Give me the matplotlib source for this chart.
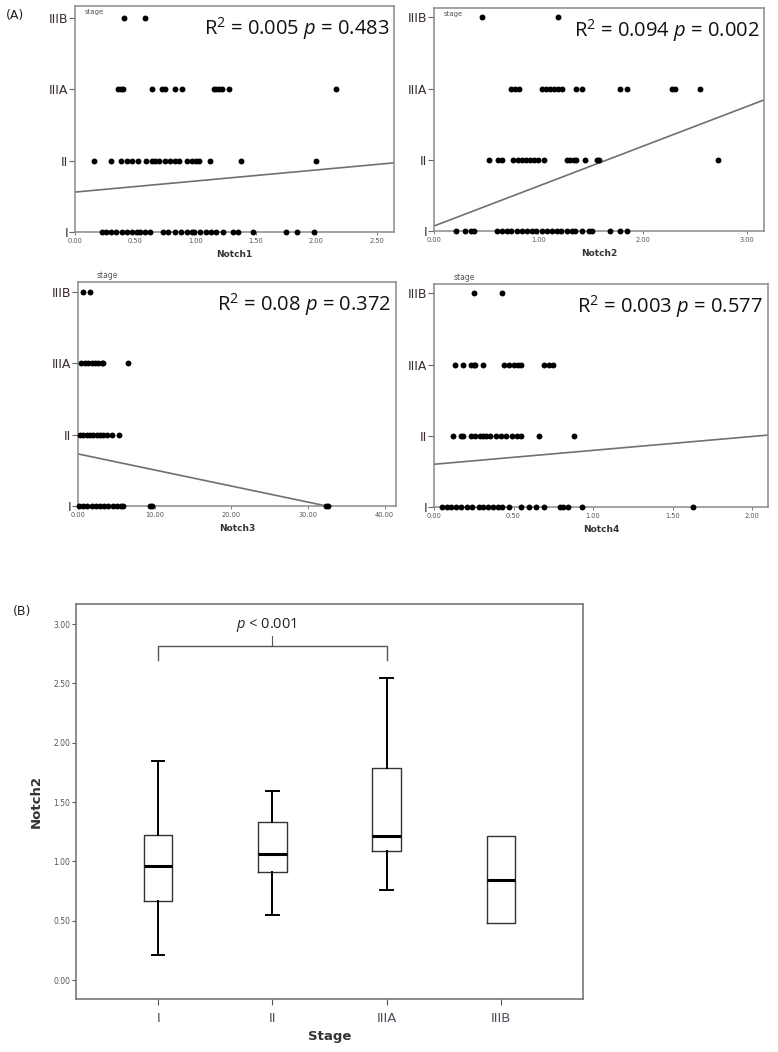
import numpy as np
import matplotlib
matplotlib.use('Agg')
import matplotlib.pyplot as plt

plt.rcParams['mathtext.fontset'] = 'custom'
plt.rcParams['mathtext.rm'] = 'Open Sans'
plt.rcParams['mathtext.it'] = 'Open Sans:italic'

W, H = 778, 1052

stages = ['I', 'II', 'IIIA', 'IIIB']

# Notch1 values per stage
n1_I = [0.22, 0.26, 0.30, 0.34, 0.39, 0.43, 0.47, 0.51, 0.54, 0.58, 0.62, 0.73, 0.77, 0.83,
        0.88, 0.93, 0.97, 0.99, 1.04, 1.09, 1.13, 1.17, 1.23, 1.31, 1.35, 1.48, 1.75, 1.84, 1.98]
n1_II = [0.16, 0.30, 0.38, 0.43, 0.47, 0.52, 0.59, 0.64, 0.66, 0.70, 0.75, 0.79, 0.83, 0.86,
         0.93, 0.97, 1.00, 1.03, 1.12, 1.38, 2.00]
n1_IIIA = [0.36, 0.38, 0.40, 0.64, 0.72, 0.75, 0.83, 0.89, 1.15, 1.17, 1.19, 1.22, 1.28, 2.16]
n1_IIIB = [0.41, 0.58]

# Notch2 values per stage
n2_I = [0.21, 0.30, 0.35, 0.38, 0.60, 0.65, 0.70, 0.74, 0.79, 0.84, 0.89, 0.94, 0.98, 1.03,
        1.08, 1.13, 1.18, 1.22, 1.27, 1.32, 1.35, 1.42, 1.48, 1.51, 1.69, 1.78, 1.85]
n2_II = [0.53, 0.61, 0.65, 0.76, 0.80, 0.84, 0.88, 0.92, 0.96, 1.00, 1.05, 1.27, 1.30, 1.34,
         1.36, 1.45, 1.56, 1.58, 2.72]
n2_IIIA = [0.74, 0.78, 0.81, 1.03, 1.07, 1.11, 1.15, 1.19, 1.23, 1.36, 1.42, 1.78, 1.85,
           2.28, 2.31, 2.55]
n2_IIIB = [0.46, 1.19]

# Notch3 values per stage
n3_I = [0.17, 0.69, 1.21, 1.78, 2.35, 2.87, 3.39, 3.95, 4.52, 5.04, 5.56, 5.91, 9.39, 9.60,
        32.3, 32.6]
n3_II = [0.26, 0.70, 1.13, 1.56, 2.00, 2.43, 2.87, 3.30, 3.82, 4.39, 5.35]
n3_IIIA = [0.39, 0.91, 1.35, 1.78, 2.22, 2.65, 3.09, 3.30, 6.56]
n3_IIIB = [0.70, 1.56]

# Notch4 values per stage
n4_I = [0.05, 0.08, 0.11, 0.14, 0.17, 0.21, 0.24, 0.28, 0.31, 0.34, 0.37, 0.40, 0.43, 0.47,
        0.55, 0.60, 0.64, 0.69, 0.79, 0.81, 0.84, 0.93, 1.63]
n4_II = [0.12, 0.17, 0.18, 0.23, 0.26, 0.29, 0.31, 0.33, 0.35, 0.39, 0.42, 0.45, 0.49, 0.52,
         0.55, 0.66, 0.88]
n4_IIIA = [0.13, 0.18, 0.23, 0.25, 0.26, 0.31, 0.44, 0.47, 0.50, 0.53, 0.55, 0.69, 0.72, 0.75]
n4_IIIB = [0.25, 0.43]

# fitted lines: (intercept, slope) on stage index scale
fit1 = (0.56, 0.155)
fit2 = (0.07, 0.56)
fit3 = (0.73, -0.0225)
fit4 = (0.60, 0.195)

r2_text = ['R$^2$ = 0.005 $p$ = 0.483', 'R$^2$ = 0.094 $p$ = 0.002',
           'R$^2$ = 0.08 $p$ = 0.372', 'R$^2$ = 0.003 $p$ = 0.577']

# box plot (B): Notch2 by stage
box_lo = [0.21, 0.55, 0.76, 0.48]
box_q1 = [0.67, 0.91, 1.09, 0.48]
box_med = [0.96, 1.06, 1.21, 0.84]
box_q3 = [1.22, 1.33, 1.79, 1.21]
box_hi = [1.85, 1.59, 2.55, 1.21]

fig = plt.figure(figsize=(W / 100, H / 100), dpi=100)


def add_ax(x0, y0, x1, y1):
    return fig.add_axes([x0 / W, 1 - y1 / H, (x1 - x0) / W, (y1 - y0) / H])


spine_c = '#8a8a8a'
panels = [
    (add_ax(75, 6, 394, 232), [n1_I, n1_II, n1_IIIA, n1_IIIB], fit1, (0, 2.645), [0, 0.5, 1, 1.5, 2, 2.5], 3.17, 'Notch1', True),
    (add_ax(434, 8, 764, 231), [n2_I, n2_II, n2_IIIA, n2_IIIB], fit2, (0, 3.16), [0, 1, 2, 3], 3.13, 'Notch2', True),
    (add_ax(78, 282, 396, 506), [n3_I, n3_II, n3_IIIA, n3_IIIB], fit3, (0, 41.5), [0, 10, 20, 30, 40], 3.14, 'Notch3', False),
    (add_ax(434, 284, 768, 507), [n4_I, n4_II, n4_IIIA, n4_IIIB], fit4, (0, 2.10), [0, 0.5, 1, 1.5, 2], 3.13, 'Notch4', False),
]

for k, (ax, rows, fit, xl, xt, ytop, name, stage_inside) in enumerate(panels):
    for i, vals in enumerate(rows):
        ax.scatter(vals, [i] * len(vals), s=18, color='black', zorder=3, clip_on=False, linewidths=0)
    xs = np.array(xl)
    ax.plot(xs, fit[0] + fit[1] * xs, color='#707070', lw=1.2, zorder=2)
    ax.set_xlim(*xl)
    ax.set_ylim(0, ytop)
    ax.set_yticks(range(4))
    ax.set_yticklabels(stages, fontsize=9, color='#3a2b33', family='DejaVu Sans')
    ax.set_xticks(xt)
    ax.set_xticklabels(['%.2f' % v for v in xt], fontsize=4.8, color='#555555')
    ax.tick_params(axis='y', length=4, width=0.8, color='#666666', pad=1)
    ax.tick_params(axis='x', length=2.5, width=0.6, color='#666666', pad=2)
    ax.set_xlabel(name, fontsize=6.5, fontweight='bold', color='#333333', labelpad=4)
    for s in ax.spines.values():
        s.set_color(spine_c)
        s.set_linewidth(1.1)
    if stage_inside:
        ax.text(0.03, 0.985, 'stage', transform=ax.transAxes, fontsize=5, color='#555555', va='top')
    else:
        ax.text(0.06, 1.01, 'stage', transform=ax.transAxes, fontsize=5.5, color='#555555', va='bottom')
    ax.text(0.985, 0.90, r2_text[k], transform=ax.transAxes, ha='right', va='center',
            fontsize=14.5, family='Open Sans', color='#111111')

fig.text(15 / W, 1 - 15 / H, '(A)', fontsize=9, ha='center', va='center', color='#222222')
fig.text(22 / W, 1 - 612 / H, '(B)', fontsize=9, ha='center', va='center', color='#222222')

# (B) box plot
axb = add_ax(76, 604, 583, 999)
stats = []
for i in range(4):
    stats.append(dict(med=box_med[i], q1=box_q1[i], q3=box_q3[i],
                      whislo=box_lo[i], whishi=box_hi[i], fliers=[]))
res = axb.bxp(stats, positions=[1, 2, 3, 4], widths=0.25, showfliers=False,
              boxprops=dict(color='#333333', lw=1.0),
              medianprops=dict(color='black', lw=2.2),
              whiskerprops=dict(color='black', lw=1.4),
              capprops=dict(color='black', lw=1.4), capwidths=0.11)
# IIIB has no whiskers beyond its box
for c in res['caps'][6:]:
    c.set_visible(False)
axb.set_xlim(0.28, 4.72)
axb.set_ylim(-0.16, 3.17)
axb.set_yticks([0, 0.5, 1, 1.5, 2, 2.5, 3])
axb.set_yticklabels(['%.2f' % v for v in [0, 0.5, 1, 1.5, 2, 2.5, 3]], fontsize=5.5, color='#555555')
axb.set_xticks([1, 2, 3, 4])
axb.set_xticklabels(stages, fontsize=9.5, color='#4a5060')
axb.tick_params(axis='y', length=3, width=0.8, color='#555555', pad=1)
axb.tick_params(axis='x', length=4, width=0.8, color='#555555', pad=5)
axb.set_xlabel('Stage', fontsize=9.5, fontweight='bold', color='#333333', labelpad=4)
axb.set_ylabel('Notch2', fontsize=9.5, fontweight='bold', color='#333333', labelpad=8)
for s in axb.spines.values():
    s.set_color('#777777')
    s.set_linewidth(1.2)

# significance bracket between I and IIIA
axb.plot([1, 1, 3, 3], [2.70, 2.82, 2.82, 2.70], color='#555555', lw=1.0)
axb.plot([2, 2], [2.82, 2.90], color='#555555', lw=0.8)
axb.text(1.95, 2.99, '$p$ < 0.001', ha='center', va='center', fontsize=10.5,
         family='Open Sans', color='#222222')

fig.savefig('out.png', dpi=100, facecolor='white')
